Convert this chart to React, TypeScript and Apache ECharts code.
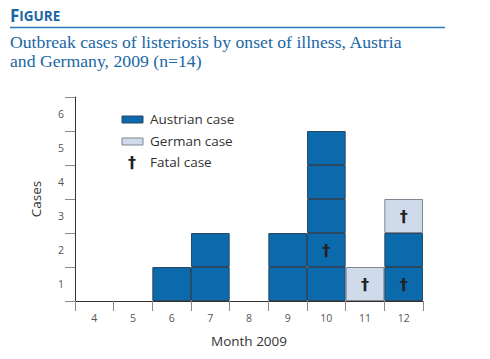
import React, { useEffect, useRef } from "react";
import * as echarts from "echarts";

const months = ["4", "5", "6", "7", "8", "9", "10", "11", "12"];
const austrianCases = [0, 0, 1, 2, 0, 2, 5, 0, 2];
const germanCases = [0, 0, 0, 0, 0, 0, 0, 1, 1];
// fatal cases: [month, position of the box in the stack (1 = bottom)]
const fatalCases: [string, number][] = [
  ["10", 2],
  ["11", 1],
  ["12", 1],
  ["12", 3],
];
const yTickLabels = ["1", "2", "3", "4", "5", "6"];

const AUSTRIAN = "#0b6aac";
const GERMAN = "#cfdbeb";
const BLUE = "#1a67a4";

export default function App() {
  const ref = useRef<HTMLDivElement>(null);
  useEffect(() => {
    if (!ref.current) return;
    const chart = echarts.init(ref.current, null, { renderer: "svg" });
    const maxLevel = 6;
    const series: any[] = [];
    for (let k = 1; k <= maxLevel; k++) {
      const data = months.map((m, i) => {
        const a = austrianCases[i];
        const g = germanCases[i];
        if (k > a + g) return "-";
        const isAus = k <= a;
        const fatal = fatalCases.some(([fm, lv]) => fm === m && lv === k);
        return {
          value: 1,
          itemStyle: {
            color: isAus ? AUSTRIAN : GERMAN,
            borderColor: isAus ? "#2b4862" : "#7f8790",
          },
          label: {
            show: fatal,
            formatter: "\u2020",
            position: "inside",
            color: "#222",
            fontSize: 16,
            fontWeight: "bold",
            fontFamily: "DejaVu Sans",
          },
        };
      });
      series.push({
        type: "bar",
        name: "level" + k,
        stack: "cases",
        data,
        barCategoryGap: "0%",
        itemStyle: { borderWidth: 1 },
        xAxisIndex: 0,
        yAxisIndex: 0,
      });
    }
    const legendFont = { fontFamily: "Open Sans", fontSize: 13.5, fill: "#333" };
    chart.setOption({
      animation: false,
      grid: { left: 75, right: 67, top: 97, bottom: 58, containLabel: false },
      xAxis: {
        type: "category",
        data: months,
        name: "Month 2009",
        nameLocation: "middle",
        nameGap: 33,
        nameTextStyle: { fontFamily: "Open Sans", fontSize: 13.5, color: "#333" },
        axisLine: { lineStyle: { color: "#333", width: 1 } },
        axisTick: { show: true, length: 10, lineStyle: { color: "#888" } },
        axisLabel: { fontFamily: "Open Sans", fontSize: 10.5, color: "#555", margin: 11 },
      },
      yAxis: [
        {
          type: "value",
          min: 0,
          max: 6,
          interval: 1,
          name: "Cases",
          nameLocation: "middle",
          nameGap: 32,
          nameTextStyle: { fontFamily: "Open Sans", fontSize: 13.5, color: "#333" },
          axisLine: { show: true, lineStyle: { color: "#333", width: 1 } },
          axisTick: { show: true, length: 10, lineStyle: { color: "#888" } },
          axisLabel: { show: false },
          splitLine: { show: false },
        },
        {
          type: "category",
          data: yTickLabels,
          position: "left",
          axisLine: { show: false },
          axisTick: { show: false },
          splitLine: { show: false },
          axisLabel: { fontFamily: "Open Sans", fontSize: 10.5, color: "#555", margin: 11 },
        },
      ],
      series,
      graphic: [
        {
          type: "text",
          left: 10,
          top: 7,
          style: {
            text: "{b|F}{s|IGURE}",
            rich: {
              b: { fontFamily: "Open Sans", fontWeight: "bold", fontSize: 17, fill: BLUE },
              s: { fontFamily: "Open Sans", fontWeight: "bold", fontSize: 13.5, fill: BLUE },
            },
          },
        },
        {
          type: "line",
          shape: { x1: 10, y1: 27.5, x2: 445, y2: 27.5 },
          style: { stroke: "#2f78b6", lineWidth: 1.5 },
        },
        {
          type: "text",
          left: 10,
          top: 32,
          style: {
            text: "Outbreak cases of listeriosis by onset of illness, Austria\nand Germany, 2009 (n=14)",
            fontFamily: "Liberation Serif",
            fontSize: 17.7,
            lineHeight: 19,
            fill: BLUE,
          },
        },
        {
          type: "rect",
          shape: { x: 122, y: 116, width: 21, height: 7 },
          style: { fill: AUSTRIAN, stroke: "#2b4862", lineWidth: 1 },
        },
        { type: "text", x: 150, y: 119, style: { ...legendFont, text: "Austrian case", verticalAlign: "middle" } },
        {
          type: "rect",
          shape: { x: 122, y: 138, width: 21, height: 7 },
          style: { fill: GERMAN, stroke: "#7f8790", lineWidth: 1 },
        },
        { type: "text", x: 150, y: 141, style: { ...legendFont, text: "German case", verticalAlign: "middle" } },
        {
          type: "text",
          x: 132,
          y: 162,
          style: {
            text: "\u2020",
            fontFamily: "DejaVu Sans",
            fontSize: 16,
            fontWeight: "bold",
            fill: "#222",
            align: "center",
            verticalAlign: "middle",
          },
        },
        { type: "text", x: 150, y: 162, style: { ...legendFont, text: "Fatal case", verticalAlign: "middle" } },
      ],
    });
    return () => chart.dispose();
  }, []);
  return <div ref={ref} style={{ width: 490, height: 359, margin: -8 }} />;
}
